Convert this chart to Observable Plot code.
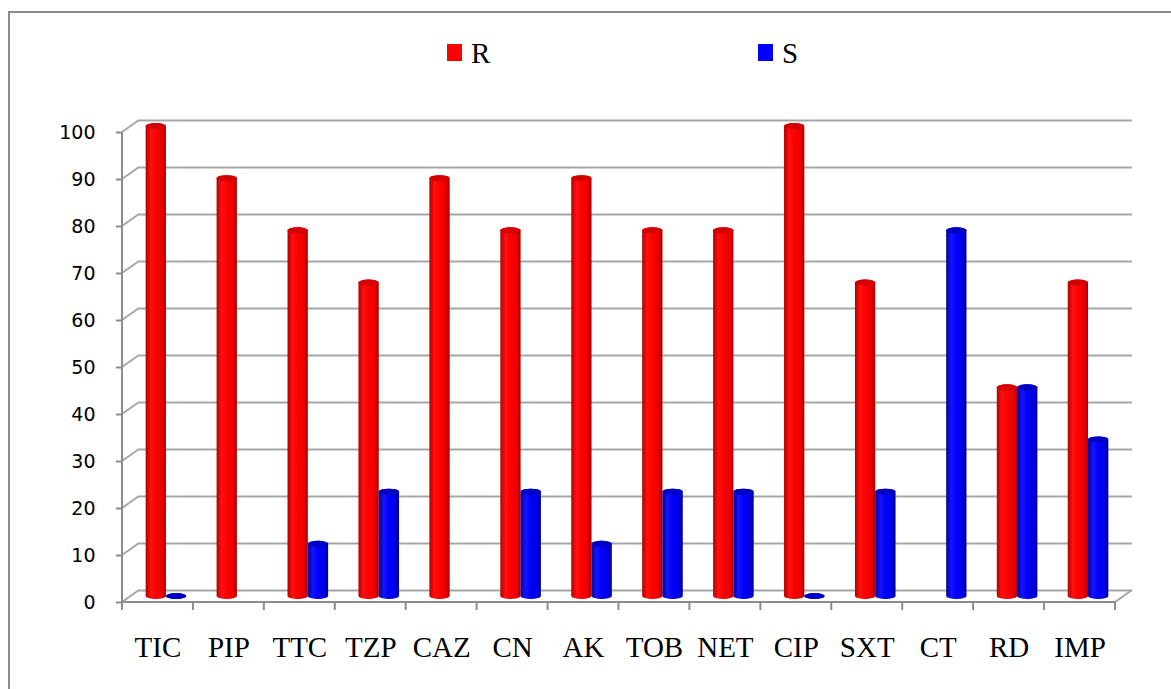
<!DOCTYPE html>
<html>
<head>
<meta charset="utf-8">
<script src="https://cdn.jsdelivr.net/npm/d3@7"></script>
<script src="https://cdn.jsdelivr.net/npm/@observablehq/plot@0.6"></script>
<style>
  body { margin: 0; background: #fff; }
  #wrap { position: relative; width: 1171px; height: 689px; overflow: hidden; background: #fff; }
  #frame { position: absolute; left: 8px; top: 11px; width: 1240px; height: 760px;
           border: 2px solid #8c8c8c; box-sizing: border-box; }
  #legend { position: absolute; left: 0; top: 0; width: 1171px; height: 100px;
            font-family: "Liberation Serif", "Times New Roman", serif; font-size: 29px; color: #000; }
  #legend .key { position: absolute; top: 44px; width: 15px; height: 17px; }
  #legend .name { position: absolute; top: 39px; line-height: 29px; }
  #chart { position: absolute; left: 0; top: 100px; }
</style>
</head>
<body>
<div id="wrap">
  <div id="frame"></div>
  <div id="legend"></div>
  <div id="chart"></div>
</div>
<script>
// Antibiotics on the x axis
const categories = ["TIC", "PIP", "TTC", "TZP", "CAZ", "CN", "AK", "TOB", "NET", "CIP", "SXT", "CT", "RD", "IMP"];
// Percentage resistant (R) and susceptible (S); null = no bar
const resistant   = [100, 88.9, 77.8, 66.7, 88.9, 77.8, 88.9, 77.8, 77.8, 100, 66.7, null, 44.4, 66.7];
const susceptible = [0, null, 11.1, 22.2, null, 22.2, 11.1, 22.2, 22.2, 0, 22.2, 77.8, 44.4, 33.3];
const seriesNames = ["R", "S"];
const seriesColors = ["#ff0000", "#0000ff"];
const yTicks = [0, 10, 20, 30, 40, 50, 60, 70, 80, 90, 100];

// Long table for the bar marks
const rows = [];
categories.forEach((c, i) => {
  if (resistant[i] != null) rows.push({category: c, series: "R", value: resistant[i]});
  if (susceptible[i] != null) rows.push({category: c, series: "S", value: susceptible[i]});
});

// Legend
const legend = d3.select("#legend");
const legendLeft = [447, 758];
seriesNames.forEach((s, i) => {
  legend.append("div").attr("class", "key")
    .style("left", legendLeft[i] + "px").style("background", seriesColors[i]);
  legend.append("div").attr("class", "name")
    .style("left", (legendLeft[i] + 24) + "px").text(s);
});

// 3D wall depth in pixels (back wall offset) and bar depth (mid-way)
const DX = 17, DY = -12;
const BDX = 8.5, BDY = -6;
const BAR_W = 20.3;

const width = 1171, height = 589;
const marginLeft = 122, marginRight = 56, marginTop = 32, marginBottom = 87;
const band = (width - marginLeft - marginRight) / categories.length;
const half = band / 2;

const axisColor = "#8c8c8c";
const gridColor = "#a6a6a6";

// Left wall diagonals, floor edges and category boundary ticks
function frame(index, {x, y}) {
  const x0 = marginLeft, x1 = width - marginRight;
  const y0 = y(0);
  const g = d3.create("svg:g")
    .attr("fill", "none").attr("stroke", axisColor).attr("stroke-width", 2);
  for (const v of yTicks) {
    g.append("line").attr("x1", x0).attr("y1", y(v)).attr("x2", x0 + DX).attr("y2", y(v) + DY)
      .attr("stroke", gridColor);
  }
  g.append("line").attr("x1", x1).attr("y1", y0).attr("x2", x1 + DX).attr("y2", y0 + DY)
    .attr("stroke", gridColor);
  g.append("line").attr("x1", x0).attr("y1", y(100)).attr("x2", x0).attr("y2", y0);
  g.append("line").attr("x1", x0).attr("y1", y0).attr("x2", x1).attr("y2", y0);
  const bounds = categories.map((c) => x(c)).concat([x1]);
  for (const bx of bounds) {
    g.append("line").attr("x1", bx).attr("y1", y0).attr("x2", bx).attr("y2", y0 + 8);
  }
  return g.node();
}

const seriesRows = (s) => rows.filter((d) => d.series === s);
const insets = {
  R: {insetLeft: half - BAR_W, insetRight: half},
  S: {insetLeft: half, insetRight: half - BAR_W}
};
const capColors = {R: "#d40000", S: "#0000c4"};

const barMarks = seriesNames.flatMap((s) => [
  Plot.barY(seriesRows(s), {
    x: "category", y: "value",
    fill: `url(#cyl${s})`,
    ...insets[s], insetTop: -3, insetBottom: -3,
    rx: 10, ry: 3, dx: BDX, dy: BDY
  }),
  Plot.barY(seriesRows(s), {
    x: "category", y1: "value", y2: "value",
    fill: capColors[s],
    ...insets[s], insetTop: -3, insetBottom: -3,
    rx: 10, ry: 3, dx: BDX, dy: BDY
  })
]);

const chart = Plot.plot({
  width, height, marginLeft, marginRight, marginTop, marginBottom,
  style: {background: "transparent", overflow: "visible"},
  x: {type: "band", domain: categories, padding: 0, round: false},
  y: {domain: [0, 100]},
  marks: [
    Plot.ruleY(yTicks, {dx: DX, dy: DY, stroke: gridColor, strokeWidth: 2}),
    frame,
    Plot.axisY(yTicks, {
      tickSize: 6, tickPadding: 21, stroke: axisColor, strokeWidth: 2, fill: "#000",
      fontSize: 19, fontFamily: "DejaVu Sans", label: null
    }),
    Plot.axisX({
      tickSize: 0, tickPadding: 34, fill: "#000",
      fontSize: 29, fontFamily: "Liberation Serif", label: null
    }),
    ...barMarks
  ]
});

// Cylinder shading gradients
const defs = d3.select(chart).insert("defs", ":first-child");
const grads = {
  R: ["#b30000", "#ff1010", "#ff0000", "#e60000", "#a80000"],
  S: ["#00009a", "#1414ff", "#0000ff", "#0000dd", "#000090"]
};
for (const s of seriesNames) {
  const lg = defs.append("linearGradient").attr("id", `cyl${s}`)
    .attr("x1", 0).attr("x2", 1).attr("y1", 0).attr("y2", 0);
  [0, 0.25, 0.5, 0.82, 1].forEach((o, i) => {
    lg.append("stop").attr("offset", o).attr("stop-color", grads[s][i]);
  });
}

document.getElementById("chart").appendChild(chart);
</script>
</body>
</html>
